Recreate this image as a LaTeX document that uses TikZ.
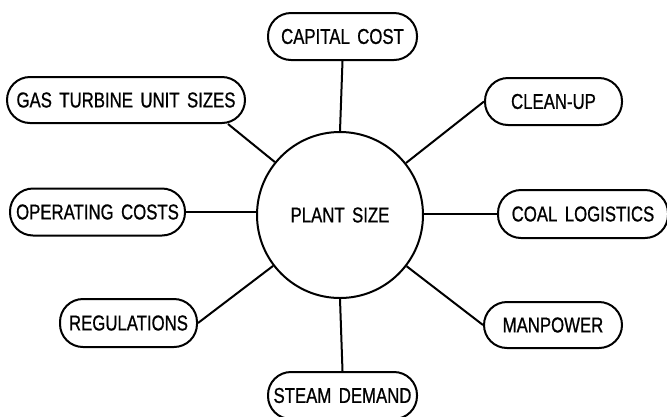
\documentclass[tikz,border=0pt]{standalone}
\usepackage{fontspec}
\setmainfont[FakeStretch=0.78,FakeBold=0.8,WordSpace=1.6]{Liberation Sans}
\usetikzlibrary{calc}
\begin{document}
\begin{tikzpicture}[x=1pt,y=-1pt,
  lw/.style={line width=2pt},
  topic/.style={lw,draw,rectangle,rounded corners=23pt,inner sep=0pt,font=\fontsize{21.5}{21.5}\selectfont},
  hub/.style={lw,draw,circle,inner sep=0pt,minimum size=166pt,font=\fontsize{21.5}{21.5}\selectfont},
  link/.style={lw}]
\useasboundingbox (0,0) rectangle (667,416);
\node[hub] (c) at (340,215) {PLANT SIZE};
\node[topic,minimum width=149pt,minimum height=47pt] (cap) at (342.5,36.5) {CAPITAL COST};
\node[topic,minimum width=137pt,minimum height=47pt] (clean) at (553.5,101.5) {CLEAN-UP};
\node[topic,minimum width=238pt,minimum height=46pt] (gas) at (126,100) {GAS TURBINE UNIT SIZES};
\node[topic,minimum width=175pt,minimum height=47pt] (op) at (97.5,212) {OPERATING COSTS};
\node[topic,minimum width=170pt,minimum height=48pt] (coal) at (583,214) {COAL LOGISTICS};
\node[topic,minimum width=137pt,minimum height=48pt] (reg) at (128.5,323) {REGULATIONS};
\node[topic,minimum width=138pt,minimum height=46pt] (man) at (553,325) {MANPOWER};
\node[topic,minimum width=149pt,minimum height=47pt] (steam) at (342.5,395.5) {STEAM DEMAND};
\coordinate (gasend) at ($(gas.south east)+(-18,0)$);
\draw[link] (cap.south) -- (c.north);
\draw[link] (c) -- (clean.west);
\draw[link] (c) -- (gasend);
\draw[link] (op.east) -- (op.east -| c.west);
\draw[link] (coal.west) -- (coal.west -| c.east);
\draw[link] (c) -- (reg.east);
\draw[link] (c) -- (man.west);
\draw[link] (c.south) -- (steam.north);
\end{tikzpicture}
\end{document}
